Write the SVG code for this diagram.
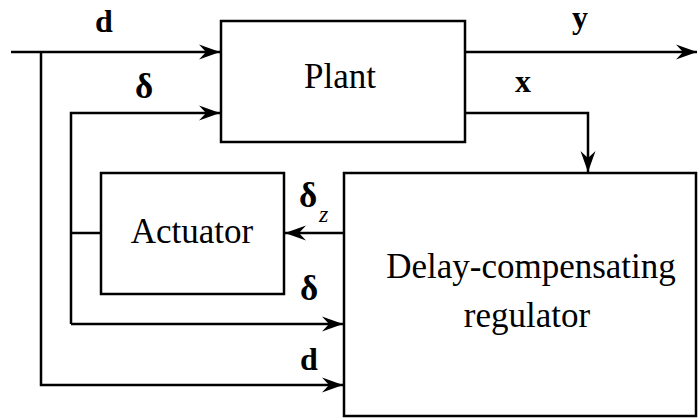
<svg xmlns="http://www.w3.org/2000/svg" width="698" height="418" viewBox="0 0 698 418">
<style>
.box{fill:#fff;stroke:#000;stroke-width:2.5}
.ln{fill:none;stroke:#000;stroke-width:2.5}
text{font-family:'Liberation Serif','Times New Roman','DejaVu Serif',serif;fill:#000}
.lbl{font-size:35px;text-anchor:middle}
.sym{font-size:32px;font-weight:bold}
.dl{font-size:35px}
.sub{font-size:24px;font-style:italic}
</style>
<defs>
<marker id="ah" markerUnits="userSpaceOnUse" markerWidth="24" markerHeight="18" viewBox="-22 -9 24 18" refX="0" refY="0" orient="auto">
<path d="M0,0 L-21,-7.5 L-14,0 L-21,7.5 Z" fill="#000"/>
</marker>
</defs>
<rect width="698" height="418" fill="#fff"/>
<g id="connectors">
<path class="ln" d="M11,52 H220" marker-end="url(#ah)"/>
<path class="ln" d="M41,52 V385 H343" marker-end="url(#ah)"/>
<path class="ln" d="M71,324 V113 H220" marker-end="url(#ah)"/>
<path class="ln" d="M71,324 H343" marker-end="url(#ah)"/>
<path class="ln" d="M71,233 H101"/>
<path class="ln" d="M344,233 H285" marker-end="url(#ah)"/>
<path class="ln" d="M465,52 H697" marker-end="url(#ah)"/>
<path class="ln" d="M465,113 H588 V172" marker-end="url(#ah)"/>
</g>
<g id="plant">
<rect class="box" x="221" y="21" width="244" height="121"/>
<text class="lbl" x="340" y="88">Plant</text>
</g>
<g id="actuator">
<rect class="box" x="101" y="173" width="183" height="121"/>
<text class="lbl" x="192" y="243">Actuator</text>
</g>
<g id="regulator">
<rect class="box" x="344" y="173" width="352" height="243"/>
<text class="lbl" x="531" y="278">Delay-compensating</text>
<text class="lbl" x="527" y="327">regulator</text>
</g>
<g id="labels">
<text class="sym" x="95" y="32">d</text>
<text class="sym dl" x="135" y="98">δ</text>
<text class="sym" x="572" y="28">y</text>
<text class="sym" x="515" y="92">x</text>
<text class="sym dl" x="299" y="207">δ</text>
<text class="sub" x="319" y="222">z</text>
<text class="sym dl" x="300" y="300">δ</text>
<text class="sym" x="300" y="370">d</text>
</g>
</svg>
